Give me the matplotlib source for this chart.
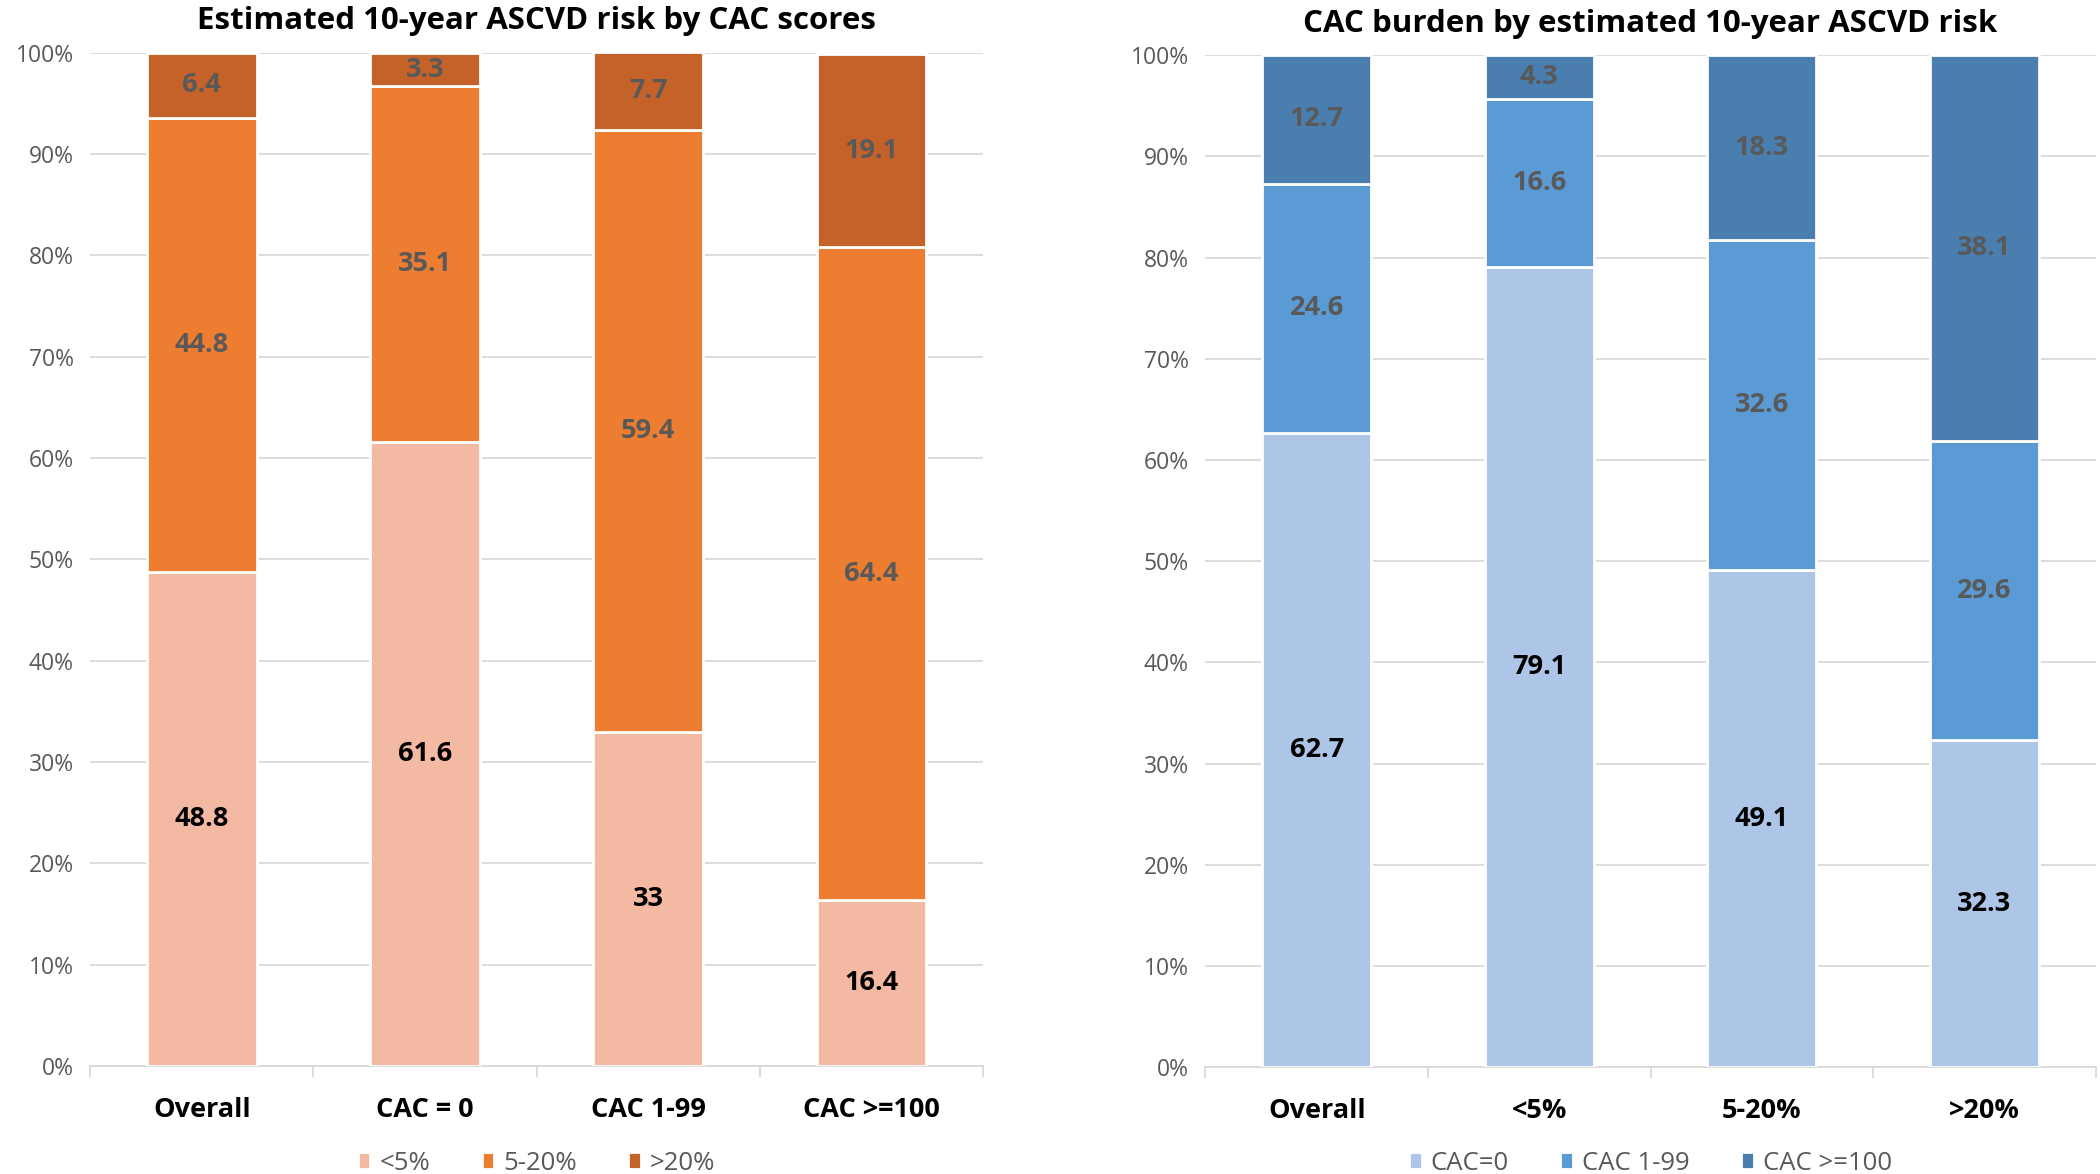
import matplotlib.pyplot as plt
import numpy as np
from matplotlib import font_manager

# pick a narrow font if present (the original looks like Calibri)
names = {f.name for f in font_manager.fontManager.ttflist}
base = "Liberation Sans Narrow" if "Liberation Sans Narrow" in names else "Open Sans"
plt.rcParams['font.family'] = [base, 'DejaVu Sans']

# Left panel: estimated 10-year ASCVD risk by CAC score group
left_cats = ["Overall", "CAC = 0", "CAC 1-99", "CAC >=100"]
left_names = ["<5%", "5-20%", ">20%"]
left_low = [48.8, 61.6, 33, 16.4]
left_mid = [44.8, 35.1, 59.4, 64.4]
left_high = [6.4, 3.3, 7.7, 19.1]
left_colors = ["#F4B9A3", "#ED7D31", "#C5622A"]

# Right panel: CAC burden by ASCVD risk group
right_cats = ["Overall", "<5%", "5-20%", ">20%"]
right_names = ["CAC=0", "CAC 1-99", "CAC >=100"]
right_zero = [62.7, 79.1, 49.1, 32.3]
right_mid = [24.6, 16.6, 32.6, 29.6]
right_high = [12.7, 4.3, 18.3, 38.1]
right_colors = ["#ADC5E6", "#5A9BD6", "#4A7EAF"]


def panel(fig, ax, cats, series, names, colors, title):
    x = np.arange(len(cats))
    bottom = np.zeros(len(cats))
    for i, (vals, name, col) in enumerate(zip(series, names, colors)):
        vals = np.array(vals, dtype=float)
        bars = ax.bar(x, vals, bottom=bottom, width=0.49, color=col,
                      edgecolor="white", linewidth=2, label=name, zorder=3)
        txtcol = "black" if i == 0 else "#595959"
        labels = [f"{v:g}" for v in vals]
        ax.bar_label(bars, labels=labels, label_type="center", color=txtcol,
                     fontsize=19.5, fontweight="bold")
        bottom += vals

    ax.set_xlim(-0.5, len(cats) - 0.5)
    ax.set_ylim(0, 100)
    ax.set_yticks(np.arange(0, 101, 10))
    ax.set_yticklabels([f"{t}%" for t in range(0, 101, 10)], color="#595959", fontsize=16.5)
    ax.yaxis.grid(True, color="#D9D9D9", linewidth=1.3, zorder=0)
    ax.set_axisbelow(True)
    ax.tick_params(axis="y", length=0, pad=12)

    # category labels, with ticks at group boundaries
    ax.set_xticks(x)
    ax.set_xticklabels(cats, fontsize=19.5, fontweight="bold")
    ax.tick_params(axis="x", length=0, pad=22)
    ax.set_xticks(np.arange(-0.5, len(cats)), minor=True)
    ax.tick_params(axis="x", which="minor", length=8, color="#D9D9D9", width=1.3)

    for s in ["left", "right", "top"]:
        ax.spines[s].set_visible(False)
    ax.spines["bottom"].set_color("#D9D9D9")
    ax.spines["bottom"].set_linewidth(1.3)

    ax.set_title(title, fontsize=22.5, fontweight="bold", pad=17)

    # legend sits right at the bottom edge of the figure
    pos = ax.get_position()
    h, l = ax.get_legend_handles_labels()
    leg = fig.legend(h, l, loc="center", bbox_to_anchor=((pos.x0 + pos.x1) / 2, 0.009),
                     ncol=3, frameon=False, fontsize=18.5, handlelength=0.5,
                     handleheight=0.65, columnspacing=2.0, handletextpad=0.35,
                     borderpad=0, borderaxespad=0)
    for t in leg.get_texts():
        t.set_color("#595959")


fig = plt.figure(figsize=(21, 11.74), dpi=100)
ax1 = fig.add_axes([0.043, 0.092, 0.425, 0.863])
ax2 = fig.add_axes([0.574, 0.091, 0.424, 0.862])

panel(fig, ax1, left_cats, [left_low, left_mid, left_high], left_names, left_colors,
      "Estimated 10-year ASCVD risk by CAC scores")
panel(fig, ax2, right_cats, [right_zero, right_mid, right_high], right_names, right_colors,
      "CAC burden by estimated 10-year ASCVD risk")

fig.savefig("out.png", dpi=100)
